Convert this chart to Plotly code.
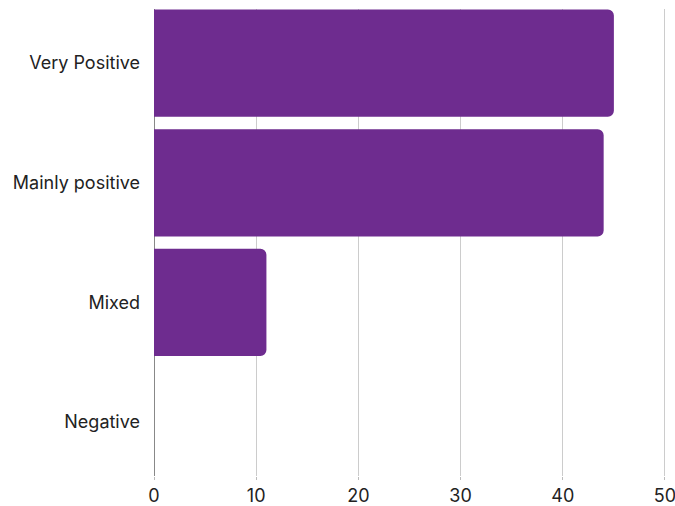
import plotly.graph_objects as go

categories = ["Very Positive", "Mainly positive", "Mixed", "Negative"]
values = [45, 44, 11, 0]
x_ticks = [0, 10, 20, 30, 40, 50]

fig = go.Figure(go.Bar(
    y=categories, x=values, orientation="h",
    marker=dict(color="#6E2C8F", line=dict(width=0)),
))
fig.update_layout(
    template="none",
    width=675, height=506,
    margin=dict(l=154, r=9, t=9, b=30),
    paper_bgcolor="white", plot_bgcolor="white",
    bargap=0.104, barcornerradius=6,
    font=dict(family="Inter", color="#222222"),
    showlegend=False,
)
fig.update_xaxes(
    range=[0, 50.1], tickvals=x_ticks, showgrid=True, gridcolor="#cccccc", gridwidth=1,
    zeroline=True, zerolinecolor="#888888", zerolinewidth=1,
    ticks="outside", ticklen=3, tickcolor="#bbbbbb", automargin=False,
    ticklabeloverflow="allow",
    tickfont=dict(size=18, color="#222222"), showline=False,
)
fig.update_yaxes(
    categoryorder="array", categoryarray=categories, autorange=False,
    range=[3.45, -0.452], showgrid=False, zeroline=False, showline=False,
    ticks="", ticklabelstandoff=13, automargin=False,
    tickfont=dict(size=18, color="#222222"),
)
fig.write_html("out.html")
